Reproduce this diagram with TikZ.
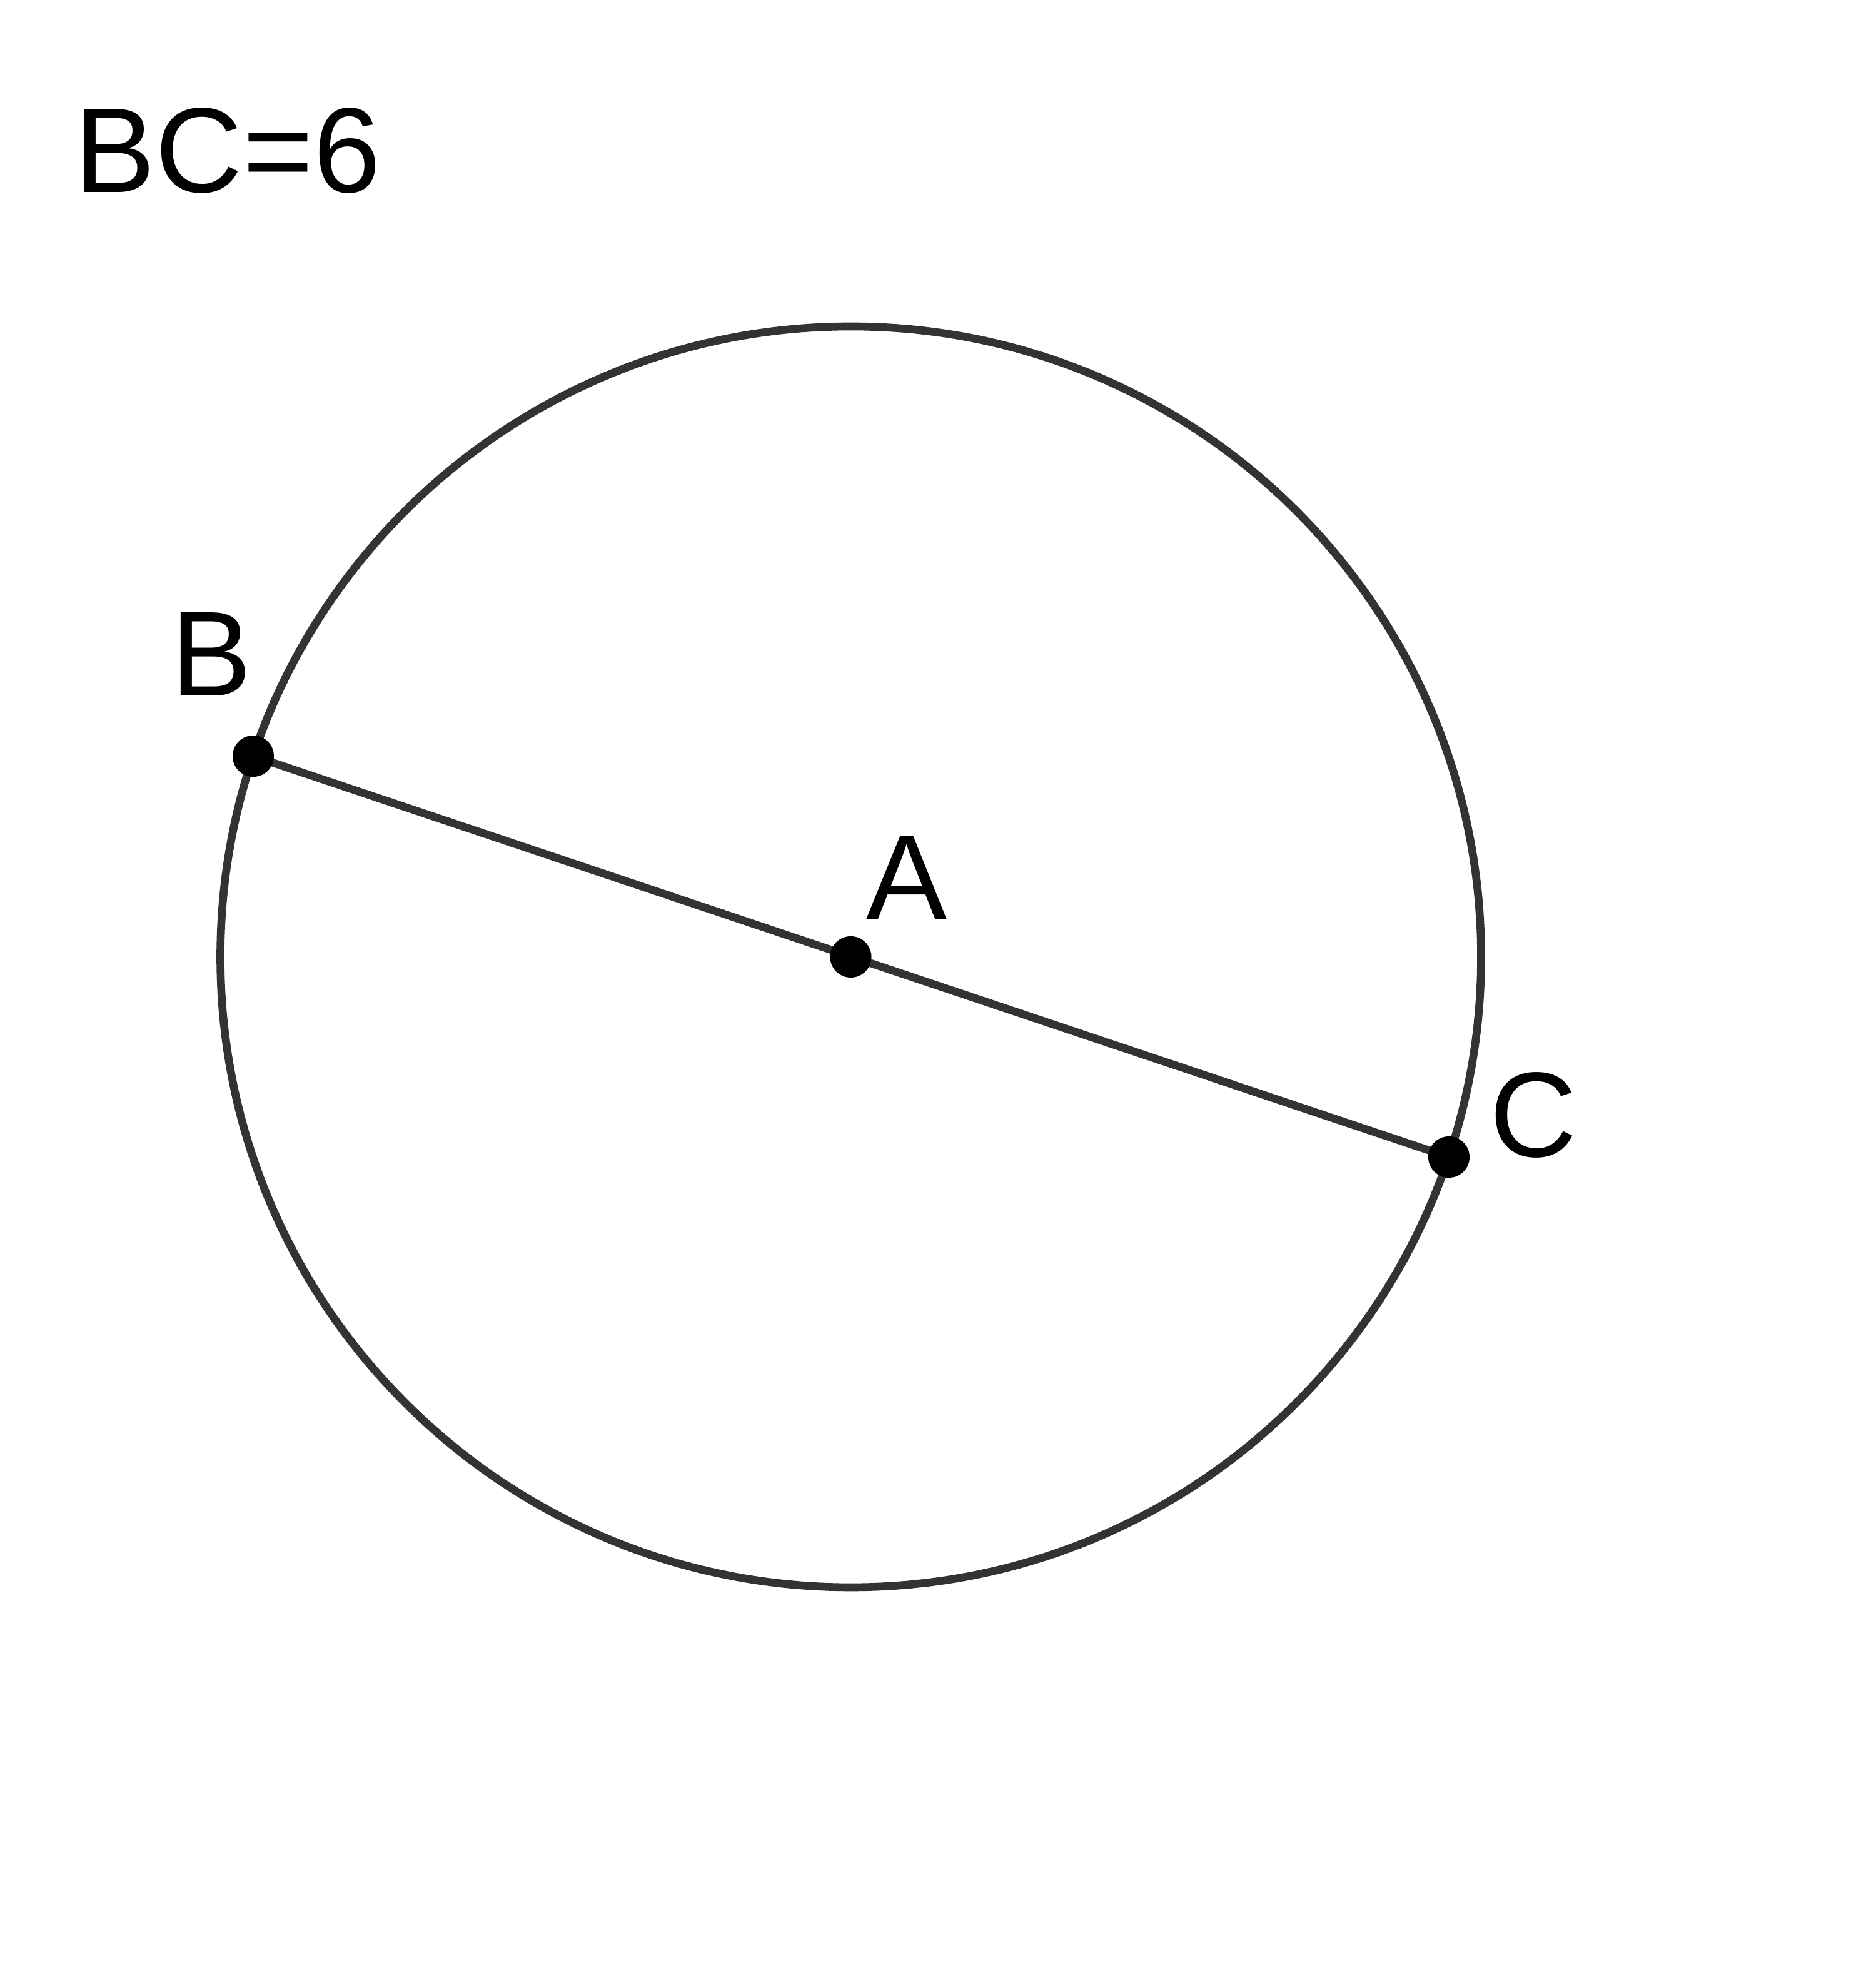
\documentclass[tikz,border=0pt]{standalone}
\usepackage{fontspec}
\setmainfont{Liberation Sans}
\begin{document}
\begin{tikzpicture}[x=1cm,y=1cm,
  geo/.style={draw=black!80, line width=3.6pt},
  pt/.style={circle, fill=black, inner sep=0pt, minimum size=0.66cm},
  lbl/.style={anchor=base west, inner sep=0pt, font=\fontsize{55pt}{60pt}\selectfont}]
\useasboundingbox (0,0) rectangle (30,31.69);
\coordinate (A) at (13.605,16.39);
\coordinate (B) at (4.05,19.60);
\coordinate (C) at (23.17,13.19);
\draw[geo] (A) circle (10.08);
\draw[geo] (B) -- (C);
\node[pt] (pB) at (B) {};
\node[pt] (pA) at (A) {};
\node[pt] (pC) at (C) {};
\node[lbl] (title) at (1.19,28.61) {BC=6};
\node[lbl] (lB) at (2.73,20.56) {B};
\node[lbl] (lA) at (13.85,16.99) {A};
\node[lbl] (lC) at (23.82,13.19) {C};
\end{tikzpicture}
\end{document}
